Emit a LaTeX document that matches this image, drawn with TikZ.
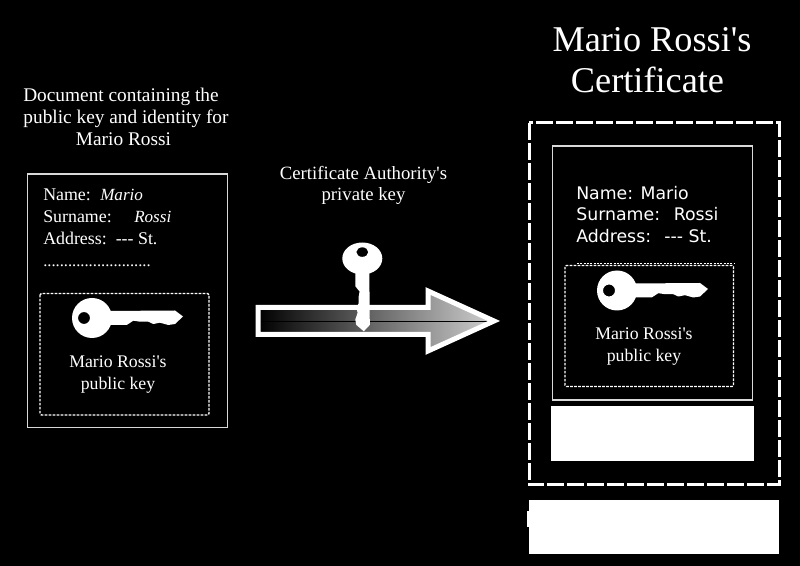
\documentclass[tikz,border=0pt]{standalone}
\usepackage{fontspec}
\setmainfont{Liberation Serif}[Ligatures=TeXOff]
\setsansfont{DejaVu Sans}[Ligatures=TeXOff]
\usetikzlibrary{positioning}
\tikzset{
  x=0.75pt,y=-0.75pt,
  label text/.style={text=white,align=center,inner sep=0pt,font=\fontsize{14.5}{16.5}\selectfont},
  key label/.style={label text,font=\fontsize{13.3}{16.5}\selectfont},
  field text/.style={text=white,anchor=base west,inner sep=0pt,font=\fontsize{13.4}{16}\selectfont},
  ital field/.style={field text,font=\itshape\fontsize{12.8}{16}\selectfont},
  sans field/.style={text=white,anchor=base west,inner sep=0pt,font=\sffamily\fontsize{13}{16}\selectfont},
  solid box/.style={draw=white!85!black,line width=1pt},
  dotted box/.style={draw=white,line width=1pt,dash pattern=on 2pt off 1pt,rounded corners=1pt},
  keyshape/.pic={
    \fill[white,even odd rule]
      (0,0) circle[radius=20]
      (-8,0) circle[radius=6];
    \fill[white] (15,-7) -- (83,-7.5) -- (91,-1.5) -- (83,6) -- (76.3,7) -- (68,4.7) -- (61.3,6)
      -- (56.3,3.7) -- (48,3.7) -- (41.3,2.7) -- (34.7,7) -- (15,7) -- cycle;
  }
}
\begin{document}
\begin{tikzpicture}
\useasboundingbox (0,0) rectangle (800,566);
\fill[black] (0,0) rectangle (800,566);
% left document
\draw[solid box] (27.5,174) rectangle (227.5,427.5);
\draw[dotted box] (40,293.5) rectangle (209,415);
\node[label text] (lefttitle) at (126,117) {Document containing the\hspace*{7.5pt}\\public key and identity for\\Mario Rossi\hspace*{3.75pt}};
\node[field text] (lname) at (43,201) {Name:};
\node[ital field] (lmario) at (100,201) {Mario};
\node[field text] (lsur) at (43,222.5) {Surname:};
\node[ital field] (lrossi) at (134,223) {Rossi};
\node[field text] (laddr) at (43,244.5) {Address:};
\node[field text] (lst) at (115.5,244.5) {--- St.};
\node[field text,font=\fontsize{12.4}{16}\selectfont] (ldots) at (43,267) {..........................};
\pic at (92,318) {keyshape};
\node[key label] (lkey) at (118,374.5) {Mario Rossi's\\public key};
% arrow
\shade[left color=black,right color=white!82!black]
  (258,307.5) -- (428,307.5) -- (428,291) -- (494,321) -- (428,351) -- (428,334.5) -- (258,334.5) -- cycle;
\draw[draw=black,line width=0.6pt] (260,321) -- (494,321);
\draw[white,line width=3.75pt,miter limit=10]
  (258,307.5) -- (428,307.5) -- (428,291) -- (494,321) -- (428,351) -- (428,334.5) -- (258,334.5) -- cycle;
\pic[rotate=-90,xscale=0.8] at (362.3,258.5) {keyshape};
\node[label text,font=\fontsize{14.05}{16.2}\selectfont] (catext) at (363.5,185.5) {Certificate Authority's\\private key};
% right certificate
\node[label text,font=\fontsize{27.2}{30.5}\selectfont] (righttitle) at (652,60.5) {Mario Rossi's\\Certificate\hspace*{6.75pt}};
\draw[white,line width=2.25pt,dash pattern=on 13pt off 2pt] (529,123) rectangle (779,485);
\draw[solid box] (552.5,146) rectangle (752.5,400);
\node[sans field] (rname) at (576,199.3) {Name: Mario};
\node[sans field] (rsur) at (576,221) {Surname:};
\node[sans field] (rrossi) at (673.5,221) {Rossi};
\node[sans field] (raddr) at (576,242.7) {Address:};
\node[sans field] (rst) at (664,242.7) {--- St.};
\draw[white,line width=1pt,dash pattern=on 1.5pt off 1pt] (577,263.5) -- (734,263.5);
\draw[dotted box] (565,265.5) rectangle (733.5,386.5);
\pic at (617,290.5) {keyshape};
\node[key label] (rkey) at (644,347) {Mario Rossi's\\public key};
\fill[white] (550.5,406.5) rectangle (754,461.5);
\fill[white] (529,500.5) rectangle (778.5,554);
\fill[white] (527,511.5) rectangle (530,527);
\end{tikzpicture}
\end{document}
